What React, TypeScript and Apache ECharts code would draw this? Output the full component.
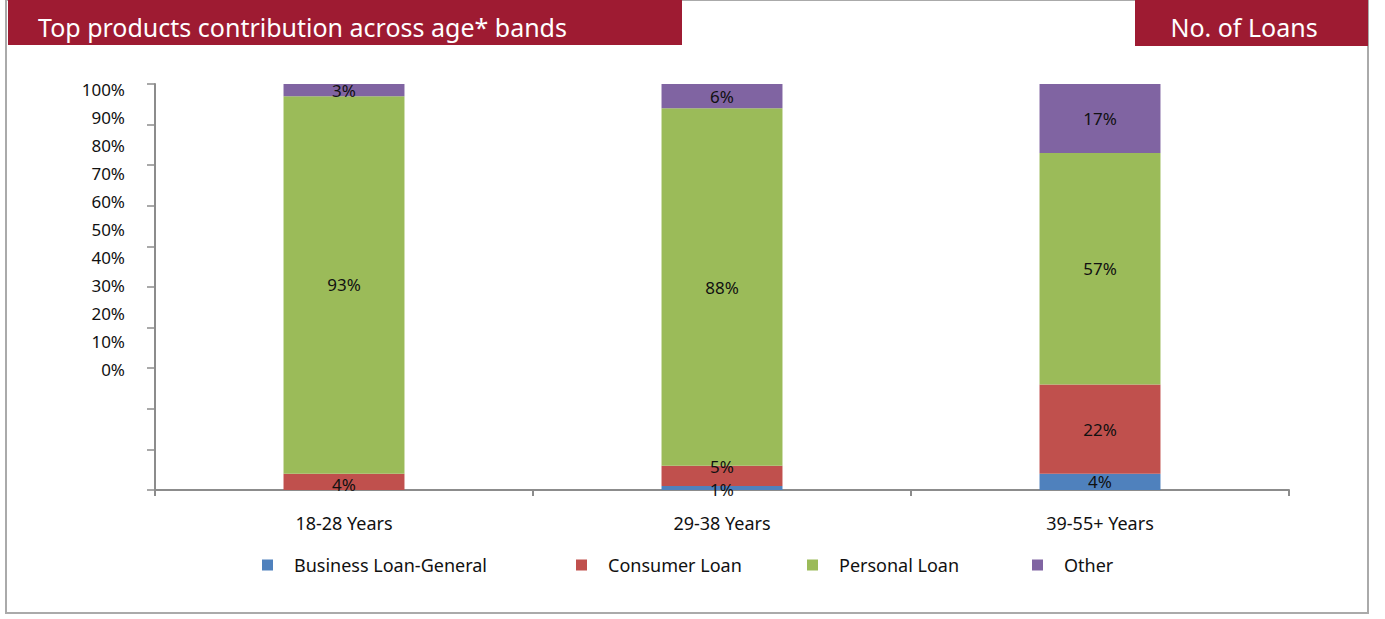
import React, { useEffect, useRef } from "react";
import * as echarts from "echarts";

const categories = ["18-28 Years", "29-38 Years", "39-55+ Years"];
const businessLoan = [0, 1, 4];
const consumerLoan = [4, 5, 22];
const personalLoan = [93, 88, 57];
const other = [3, 6, 17];
const seriesNames = ["Business Loan-General", "Consumer Loan", "Personal Loan", "Other"];
const seriesColors = ["#4F81BD", "#C0504D", "#9BBB59", "#8064A2"];
const yTickLabels = [0, 10, 20, 30, 40, 50, 60, 70, 80, 90, 100];
const titleText = "Top products contribution across age* bands";
const badgeText = "No. of Loans";

const FONT = "'Noto Sans', 'Open Sans', sans-serif";

// label nudges for thin segments (series index -> data index -> offset)
const labelOffsets: Record<string, [number, number]> = {
  "0-1": [0, 2],
  "1-1": [0, -9],
  "1-0": [0, 3],
};

export default function App() {
  const ref = useRef<HTMLDivElement>(null);
  useEffect(() => {
    if (!ref.current) return;
    const chart = echarts.init(ref.current, undefined, { renderer: "svg" });
    const values = [businessLoan, consumerLoan, personalLoan, other];
    const legendLefts = [262, 576, 807, 1032];
    const option: any = {
      animation: false,
      backgroundColor: "#ffffff",
      textStyle: { fontFamily: FONT },
      grid: { left: 155, right: 96, top: 84, bottom: 129 },
      legend: seriesNames.map((name, i) => ({
        data: [name],
        left: legendLefts[i],
        top: 556,
        padding: 0,
        icon: "rect",
        itemWidth: 11,
        itemHeight: 11,
        selectedMode: false,
        textStyle: { fontSize: 18, color: "#111", fontFamily: FONT, padding: [0, 0, 0, 16] },
      })),
      xAxis: {
        type: "category",
        data: categories,
        boundaryGap: true,
        axisLine: { lineStyle: { color: "#8c8c8c", width: 2 } },
        axisTick: { show: true, alignWithLabel: false, length: 6, lineStyle: { color: "#8c8c8c", width: 2 } },
        axisLabel: { fontSize: 18, color: "#111", margin: 24, fontFamily: FONT },
      },
      yAxis: [
        {
          type: "value",
          min: 0,
          max: 100,
          interval: 10,
          axisLine: { show: true, lineStyle: { color: "#8c8c8c", width: 2 } },
          axisTick: { show: true, inside: false, length: 8, lineStyle: { color: "#8c8c8c", width: 1.5 } },
          axisLabel: { show: false },
          splitLine: { show: false },
        },
        {
          type: "value",
          position: "left",
          min: -42.86,
          max: 102.14,
          axisLine: { show: false },
          axisTick: { show: false },
          splitLine: { show: false },
          axisLabel: {
            show: true,
            customValues: yTickLabels,
            formatter: (v: number) => `${Math.round(v)}%`,
            fontSize: 17,
            color: "#111",
            margin: 30,
            fontFamily: FONT,
          },
        },
      ],
      series: seriesNames.map((name, i) => ({
        name,
        type: "bar",
        stack: "total",
        barWidth: "32%",
        yAxisIndex: 0,
        data: values[i].map((v, j) => {
          const off = labelOffsets[`${i}-${j}`];
          return off ? { value: v, label: { offset: off } } : v;
        }),
        itemStyle: { color: seriesColors[i] },
        label: {
          show: true,
          position: "inside",
          fontSize: 17,
          color: "#111",
          fontFamily: FONT,
          formatter: (p: any) => (p.value > 0 ? `${p.value}%` : ""),
        },
      })),
      graphic: [
        {
          type: "rect",
          shape: { x: 6, y: 0, width: 1362, height: 613 },
          style: { fill: "none", stroke: "#aaaaaa", lineWidth: 2 },
          z: 0,
        },
        {
          type: "rect",
          shape: { x: 8, y: 0, width: 674, height: 45 },
          style: { fill: "#9E1B32" },
          z: 10,
        },
        {
          type: "text",
          x: 38,
          y: 27,
          style: {
            text: titleText,
            fill: "#ffffff",
            fontSize: 25,
            fontFamily: FONT,
            verticalAlign: "middle",
          },
          z: 11,
        },
        {
          type: "rect",
          shape: { x: 1135, y: 0, width: 233, height: 46 },
          style: { fill: "#9E1B32" },
          z: 10,
        },
        {
          type: "text",
          x: 1244,
          y: 27,
          style: {
            text: badgeText,
            fill: "#ffffff",
            fontSize: 25,
            fontFamily: FONT,
            align: "center",
            verticalAlign: "middle",
          },
          z: 11,
        },
      ],
    };
    chart.setOption(option);
    return () => chart.dispose();
  }, []);
  return (
    <div
      ref={ref}
      style={{ position: "absolute", left: 0, top: 0, width: 1385, height: 619 }}
    />
  );
}
